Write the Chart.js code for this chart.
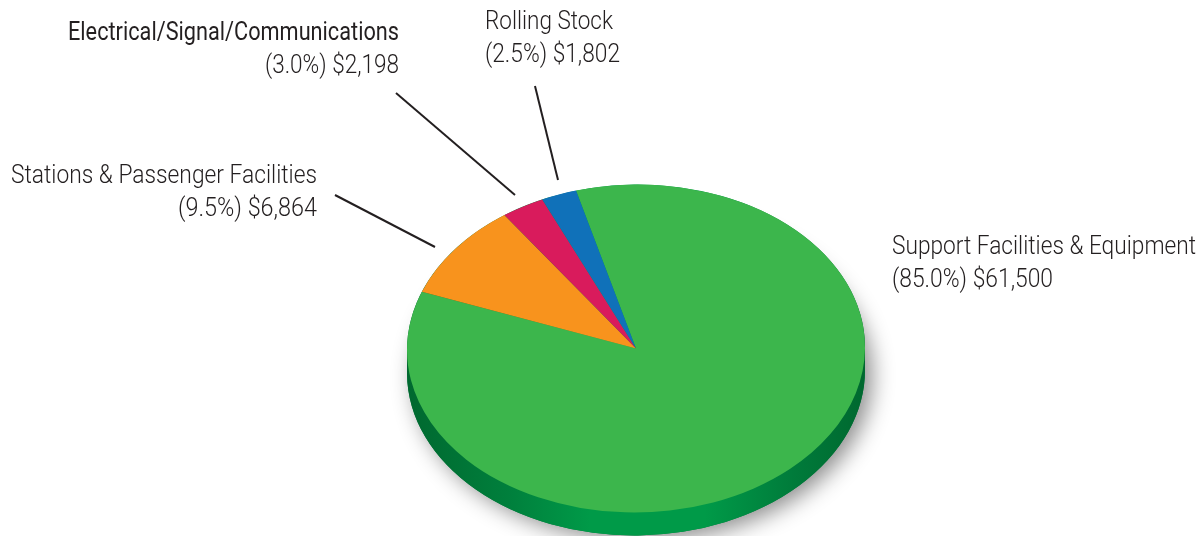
<!DOCTYPE html>
<html>
<head>
<meta charset="utf-8">
<style>
  html, body { margin: 0; padding: 0; background: #fff; overflow: hidden; }
  canvas { display: block; }
</style>
<script src="https://cdn.jsdelivr.net/npm/chart.js@4"></script>
</head>
<body>
<canvas id="pie" width="1202" height="536"></canvas>
<script>
// Data
const categories = ['Support Facilities & Equipment', 'Stations & Passenger Facilities', 'Electrical/Signal/Communications', 'Rolling Stock'];
const amounts = [61500, 6864, 2198, 1802];
const percents = ['85.0', '9.5', '3.0', '2.5'];
const colors = ['#3cb64c', '#f8931d', '#d91b5c', '#1071b9'];

// Where each label sits: x, first baseline, alignment, width of both lines
const labelSpots = [
  { x: 892, y: 254, align: 'left', nameWidth: 304, valueWidth: 161 },
  { x: 317, y: 183, align: 'right', nameWidth: 306, valueWidth: 139 },
  { x: 399, y: 40, align: 'right', nameWidth: 331, valueWidth: 134, nameWeight: 400 },
  { x: 485, y: 29, align: 'left', nameWidth: 128, valueWidth: 135 }
];
const leaderLines = [
  null,
  [335, 195, 435, 247],
  [396, 93, 515, 195],
  [535, 86, 558, 180]
];

// The pie is tilted: squash it and move it down
const squash = 0.716;
const skew = -0.012;
const pieY = 348.5;
const depth = 23;

// narrow text: the reference uses a condensed face, so squeeze it to the width
function drawFitted(ctx, text, x, y, width, align, weight) {
  ctx.font = weight + ' 26px Roboto';
  const scale = width / ctx.measureText(text).width;
  ctx.save();
  ctx.translate(x, y);
  ctx.scale(scale, 1);
  ctx.textAlign = align;
  ctx.fillText(text, 0, 0);
  ctx.restore();
}

const tiltPlugin = {
  id: 'tilt',
  beforeDatasetsDraw(chart) {
    const ctx = chart.ctx;
    const arc = chart.getDatasetMeta(0).data[0];
    const cx = arc.x, cy = arc.y, r = arc.outerRadius;
    const ry = r * squash;

    // soft shadow under the pie
    ctx.save();
    ctx.shadowColor = 'rgba(0,0,0,0.45)';
    ctx.shadowBlur = 22;
    ctx.shadowOffsetX = 7;
    ctx.shadowOffsetY = 5;
    ctx.fillStyle = '#007a3d';
    ctx.beginPath();
    ctx.ellipse(cx, pieY + depth, r, ry, skew, 0, Math.PI * 2);
    ctx.fill();
    ctx.restore();

    // side wall
    const wall = ctx.createLinearGradient(cx - r, 0, cx + r, 0);
    wall.addColorStop(0, '#00682f');
    wall.addColorStop(0.22, '#007f3c');
    wall.addColorStop(0.4, '#009a48');
    wall.addColorStop(0.65, '#009a48');
    wall.addColorStop(0.85, '#007a3a');
    wall.addColorStop(1, '#00682f');
    ctx.fillStyle = wall;
    ctx.beginPath();
    ctx.ellipse(cx, pieY, r, ry, skew, 0, Math.PI * 2);
    ctx.fill();
    ctx.beginPath();
    ctx.ellipse(cx, pieY + depth, r, ry, skew, 0, Math.PI * 2);
    ctx.fill();
    ctx.fillRect(cx - r, pieY, r * 2, depth);

    ctx.save();
    ctx.translate(cx, pieY);
    ctx.rotate(skew);
    ctx.scale(1, squash);
    ctx.translate(-cx, -cy);
  },
  afterDatasetsDraw(chart) {
    chart.ctx.restore();
  },
  afterDraw(chart) {
    const ctx = chart.ctx;
    ctx.save();
    ctx.textBaseline = 'alphabetic';
    ctx.fillStyle = '#231f20';
    categories.forEach((name, i) => {
      const spot = labelSpots[i];
      const valueText = '(' + percents[i] + '%) $' + amounts[i].toLocaleString('en-US');
      drawFitted(ctx, name, spot.x, spot.y, spot.nameWidth, spot.align, spot.nameWeight || 300);
      drawFitted(ctx, valueText, spot.x, spot.y + 33, spot.valueWidth, spot.align, 300);
      const line = leaderLines[i];
      if (line) {
        ctx.strokeStyle = '#231f20';
        ctx.lineWidth = 2;
        ctx.beginPath();
        ctx.moveTo(line[0], line[1]);
        ctx.lineTo(line[2], line[3]);
        ctx.stroke();
      }
    });
    ctx.restore();
  }
};

new Chart(document.getElementById('pie').getContext('2d'), {
  type: 'pie',
  data: {
    labels: categories,
    datasets: [{
      data: amounts,
      backgroundColor: colors,
      borderWidth: 0,
      clip: false
    }]
  },
  options: {
    responsive: false,
    animation: false,
    rotation: -14.7,
    radius: 229,
    layout: { padding: { left: 70 } },
    plugins: {
      legend: { display: false },
      tooltip: { enabled: false }
    }
  },
  plugins: [tiltPlugin]
});
</script>
</body>
</html>
